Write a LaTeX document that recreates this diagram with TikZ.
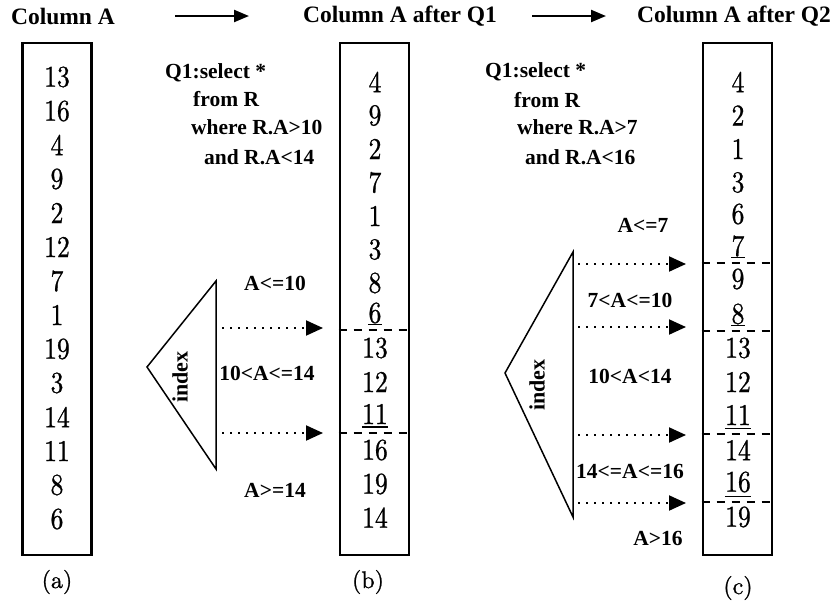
\documentclass[tikz,border=0pt]{standalone}
\usepackage{fontspec}
\usepackage{graphicx}
\newfontfamily\tnr{Liberation Serif}
\newfontfamily\lmten{lmroman10-regular}[Extension=.otf, FakeBold=0.9]
\usetikzlibrary{arrows.meta}
\newcommand\dgt[1]{\scalebox{0.95}[1.12]{#1}}
\begin{document}
\begin{tikzpicture}[x=1pt,y=-1pt,
  colbox/.style={draw, line width=2.8pt, minimum width=69pt, minimum height=512pt, inner sep=0pt},
  num/.style={inner sep=0pt, font=\lmten\fontsize{27}{30}\selectfont},
  hdr/.style={inner sep=0pt, font=\tnr\bfseries\fontsize{23.5}{26}\selectfont},
  qry/.style={anchor=west, inner sep=0pt, font=\tnr\bfseries\fontsize{21.5}{24}\selectfont},
  lbl/.style={inner sep=0pt, font=\tnr\bfseries\fontsize{21.5}{24}\selectfont},
  idx/.style={rotate=90, inner sep=0pt, font=\tnr\bfseries\fontsize{22}{24}\selectfont},
  sep/.style={line width=2.5pt, dash pattern=on 8pt off 7pt},
  uline/.style={line width=1.3pt},
  tri/.style={line width=1.5pt, line join=miter},
  dotarrow/.style={line width=2pt, dash pattern=on 2pt off 6pt, -{Triangle[length=17pt,width=15pt]}},
  harrow/.style={line width=2.3pt, -{Triangle[length=15pt,width=12pt]}},
  capt/.style={inner sep=0pt, font=\lmten\fontsize{24}{26}\selectfont}]
\useasboundingbox (0,0) rectangle (836,606);

% headers
\node[hdr] (hA) at (63,16) {Column A};
\node[hdr] (hB) at (400,16) {Column A after Q1};
\node[hdr] (hC) at (734,16) {Column A after Q2};
\coordinate (ar1s) at (175,16); \coordinate (ar1e) at (249,16);
\coordinate (ar2s) at (532,16); \coordinate (ar2e) at (606,16);
\draw[harrow] (ar1s) -- (ar1e);
\draw[harrow] (ar2s) -- (ar2e);

% boxes
\node[colbox] (boxa) at (57,299) {};
\node[colbox] (boxb) at (374.5,299) {};
\node[colbox] (boxc) at (737.5,299) {};

% numbers, column a
\foreach \v [count=\i] in {13,16,4,9,2,12,7,1,19,3,14,11,8,6}
  \node[num] (a\i) at (57,{77+34*(\i-1)}) {\dgt{\v}};
% column b
\foreach \v/\y [count=\i] in {4/82,9/115.5,2/149,7/182.5,1/216,3/249.5,8/283,6/313,
                              13/348,12/382,11/414,16/450,19/484,14/517.5}
  \node[num] (b\i) at (375,\y) {\dgt{\v}};
% column c
\foreach \v/\y [count=\i] in {4/82,2/115.5,1/149,3/182.5,6/214,7/246,9/279,8/314,
                              13/348,12/382,11/415,14/450,16/482,19/517}
  \node[num] (c\i) at (738,\y) {\dgt{\v}};

% captions
\node[capt] (capa) at (57,582) {(a)};
\node[capt] (capb) at (368,582) {(b)};
\node[capt] (capc) at (738,588) {(c)};

% dashed separators column b
\coordinate (db1) at (0,330); \coordinate (db2) at (0,433);
\draw[sep] (boxb.west |- db1) -- (boxb.east |- db1);
\draw[sep] (boxb.west |- db2) -- (boxb.east |- db2);
\coordinate (ub1) at (0,324.5); \coordinate (ub2) at (0,427);
\draw[uline] (b8.west |- ub1) -- (b8.east |- ub1);
\draw[uline] (b11.west |- ub2) -- (b11.east |- ub2);

% dashed separators column c
\coordinate (dc1) at (0,263); \coordinate (dc2) at (0,331);
\coordinate (dc3) at (0,434); \coordinate (dc4) at (0,502);
\foreach \d in {dc1,dc2,dc3,dc4}
  \draw[sep] (boxc.west |- \d) -- (boxc.east |- \d);
\coordinate (uc1) at (0,257.5); \coordinate (uc2) at (0,325.5);
\coordinate (uc3) at (0,428.5); \coordinate (uc4) at (0,496.5);
\draw[uline] (c6.west |- uc1) -- (c6.east |- uc1);
\draw[uline] (c8.west |- uc2) -- (c8.east |- uc2);
\draw[uline] (c11.west |- uc3) -- (c11.east |- uc3);
\draw[uline] (c13.west |- uc4) -- (c13.east |- uc4);

% query Q1
\node[qry] (q1a) at (165,73) {Q1:select *};
\node[qry] (q1b) at (193,99) {from R};
\node[qry] (q1c) at (191,127) {where R.A>10};
\node[qry] (q1d) at (204,157) {and R.A<14};

% query Q2
\node[qry] (q2a) at (485,72) {Q1:select *};
\node[qry] (q2b) at (514,100) {from R};
\node[qry] (q2c) at (517,127) {where R.A>7};
\node[qry] (q2d) at (525,157) {and R.A<16};

% index triangle b
\coordinate (tbA) at (147,367);
\coordinate (tbT) at (216,281);
\coordinate (tbB) at (216,469);
\draw[tri] (tbT) -- (tbA) -- (tbB) -- cycle;
\node[idx] (ixb) at (180,377) {index};
\coordinate (bs1) at (222,328); \coordinate (be1) at (323,328);
\coordinate (bs2) at (222,433); \coordinate (be2) at (323,433);
\draw[dotarrow] (bs1) -- (be1);
\draw[dotarrow] (bs2) -- (be2);
\node[lbl] (lb1) at (275,283) {A<=10};
\node[lbl] (lb2) at (267,373) {10<A<=14};
\node[lbl] (lb3) at (275,490) {A>=14};

% index triangle c
\coordinate (tcA) at (505,373);
\coordinate (tcT) at (573,252);
\coordinate (tcB) at (573,517);
\draw[tri] (tcT) -- (tcA) -- (tcB) -- cycle;
\node[idx] (ixc) at (537,385) {index};
\coordinate (cs1) at (578,264); \coordinate (ce1) at (686,264);
\coordinate (cs2) at (578,327); \coordinate (ce2) at (686,327);
\coordinate (cs3) at (578,435); \coordinate (ce3) at (686,435);
\coordinate (cs4) at (578,503); \coordinate (ce4) at (686,503);
\draw[dotarrow] (cs1) -- (ce1);
\draw[dotarrow] (cs2) -- (ce2);
\draw[dotarrow] (cs3) -- (ce3);
\draw[dotarrow] (cs4) -- (ce4);
\node[lbl] (lc1) at (643,225) {A<=7};
\node[lbl] (lc2) at (630,300) {7<A<=10};
\node[lbl] (lc3) at (630,376) {10<A<14};
\node[lbl] (lc4) at (630,471) {14<=A<=16};
\node[lbl] (lc5) at (658,538) {A>16};
\end{tikzpicture}
\end{document}
